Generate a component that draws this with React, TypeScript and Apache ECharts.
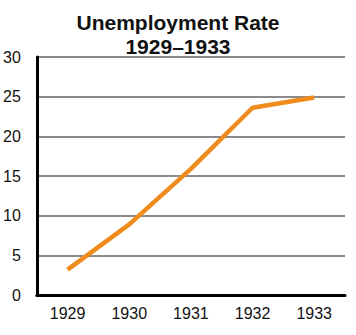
import React, { useEffect, useRef } from "react";
import * as echarts from "echarts";

const years = ["1929", "1930", "1931", "1932", "1933"];
const unemploymentRate = [3.2, 8.9, 15.9, 23.6, 24.9];
const yTicks = { min: 0, max: 30, interval: 5 };
const titleLines = ["Unemployment Rate", "1929–1933"];

export default function App() {
  const ref = useRef<HTMLDivElement>(null);
  useEffect(() => {
    if (!ref.current) return;
    const chart = echarts.init(ref.current, null, { renderer: "svg" });
    const font = "'Liberation Sans', Arial, sans-serif";
    chart.setOption({
      animation: false,
      backgroundColor: "#ffffff",
      title: {
        text: titleLines.join("\n"),
        left: "center",
        top: 5,
        textStyle: {
          fontFamily: font,
          fontWeight: "bold",
          fontSize: 21,
          lineHeight: 24,
          color: "#111111",
        },
      },
      grid: { left: 36, right: 11, top: 57, bottom: 40, containLabel: false },
      xAxis: {
        type: "category",
        data: years,
        boundaryGap: true,
        axisLine: { show: true, lineStyle: { color: "#000000", width: 3 } },
        axisTick: { show: false },
        axisLabel: { color: "#111111", fontFamily: font, fontSize: 16, margin: 10 },
        splitLine: { show: false },
      },
      yAxis: {
        type: "value",
        min: yTicks.min,
        max: yTicks.max,
        interval: yTicks.interval,
        axisLine: { show: true, lineStyle: { color: "#000000", width: 3 } },
        axisTick: { show: false },
        axisLabel: { color: "#111111", fontFamily: font, fontSize: 16, margin: 16 },
        splitLine: { show: true, lineStyle: { color: "#8a8a8a", width: 2 } },
      },
      series: [
        {
          type: "line",
          data: unemploymentRate,
          symbol: "none",
          lineStyle: { color: "#f08c1e", width: 4.5 },
          z: 3,
        },
      ],
    });
    return () => chart.dispose();
  }, []);
  return (
    <div
      ref={ref}
      style={{ position: "fixed", left: 0, top: 0, width: 356, height: 335 }}
    />
  );
}
